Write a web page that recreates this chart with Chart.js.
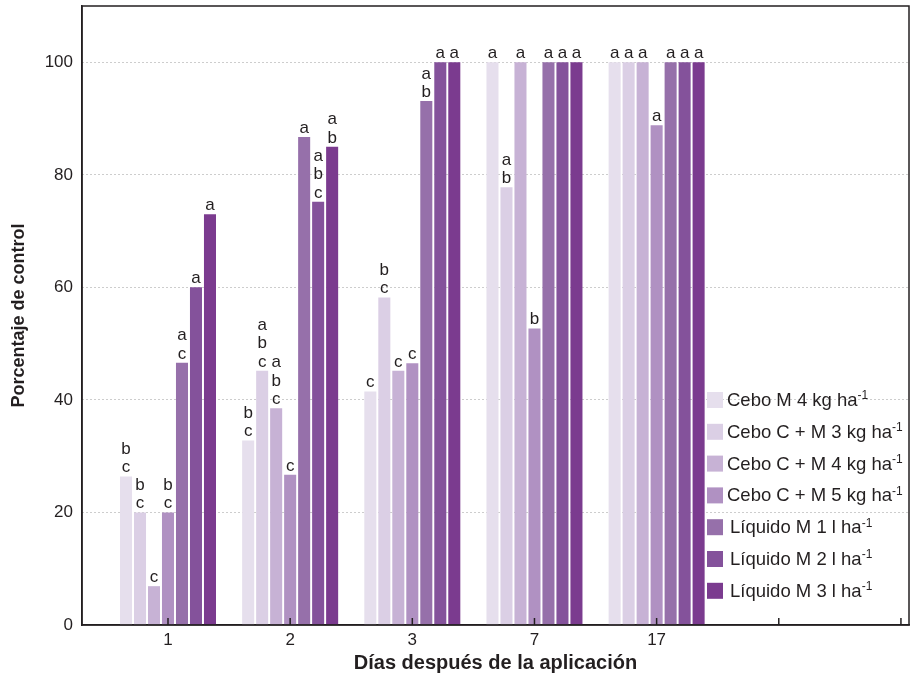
<!DOCTYPE html>
<html>
<head>
<meta charset="utf-8">
<script src="https://cdn.jsdelivr.net/npm/chart.js@4.4.0/dist/chart.umd.min.js"></script>
<style>
html, body { margin: 0; padding: 0; background: #fff; }
#wrap { width: 911px; height: 678px; }
</style>
</head>
<body>
<div id="wrap"><canvas id="myChart" width="911" height="678"></canvas></div>
<script>
// dias despues de la aplicacion (posiciones 1..5 del eje, 6 y 7 quedan vacias)
var dias = ['1', '2', '3', '7', '17', '', ''];
var y_ticks = [0, 20, 40, 60, 80, 100];

var tratamientos = [
    'Cebo M 4 kg ha⁻¹',
    'Cebo C + M 3 kg ha⁻¹',
    'Cebo C + M 4 kg ha⁻¹',
    'Cebo C + M 5 kg ha⁻¹',
    'Líquido M 1 l ha⁻¹',
    'Líquido M 2 l ha⁻¹',
    'Líquido M 3 l ha⁻¹'
];
var colores = ['#e6dfed', '#dbcfe5', '#c7b2d5', '#b091c2', '#9670aa', '#84529b', '#7b3b8f'];

var cebo_m4 = [26.4, 32.8, 41.5, 100, 100];
var cebo_cm3 = [20.0, 45.2, 58.2, 77.8, 100];
var cebo_cm4 = [6.9, 38.5, 45.2, 100, 100];
var cebo_cm5 = [20.0, 26.7, 46.5, 52.7, 88.8];
var liquido_m1 = [46.6, 86.7, 93.1, 100, 100];
var liquido_m2 = [60.0, 75.2, 100, 100, 100];
var liquido_m3 = [73.0, 85.0, 100, 100, 100];

// letras de significancia, una lista por tratamiento
var letras_m4 = ['b c', 'b c', 'c', 'a', 'a'];
var letras_cm3 = ['b c', 'a b c', 'b c', 'a b', 'a'];
var letras_cm4 = ['c', 'a b c', 'c', 'a', 'a'];
var letras_cm5 = ['b c', 'c', 'c', 'b', 'a'];
var letras_l1 = ['a c', 'a', 'a b', 'a', 'a'];
var letras_l2 = ['a', 'a b c', 'a', 'a', 'a'];
var letras_l3 = ['a', 'a b', 'a', 'a', 'a'];

var series = [cebo_m4, cebo_cm3, cebo_cm4, cebo_cm5, liquido_m1, liquido_m2, liquido_m3];
var letras = [letras_m4, letras_cm3, letras_cm4, letras_cm5, letras_l1, letras_l2, letras_l3];

var txt = '#231f20';
var fuente = '"Liberation Sans", Arial, sans-serif';

var datasets = series.map(function(vals, i) {
    return {
        label: tratamientos[i],
        backgroundColor: colores[i],
        data: vals.map(function(v, j) { return {x: j + 1, y: v}; }),
        letras: letras[i],
        categoryPercentage: 0.802,
        barPercentage: 0.86
    };
});

// marco, marcas internas del eje x, letras y leyenda
var extras = {
    id: 'extras',
    afterDatasetsDraw: function(chart) {
        var ctx = chart.ctx;
        var a = chart.chartArea;
        var xs = chart.scales.x;
        ctx.save();

        ctx.strokeStyle = txt;
        ctx.lineWidth = 1.5;
        xs.ticks.forEach(function(t) {
            var px = xs.getPixelForValue(t.value);
            ctx.beginPath();
            ctx.moveTo(px, a.bottom);
            ctx.lineTo(px, a.bottom - 7);
            ctx.stroke();
        });
        ctx.strokeRect(a.left, a.top, a.right - a.left, a.bottom - a.top);

        ctx.fillStyle = txt;
        ctx.font = '17px ' + fuente;
        ctx.textAlign = 'center';
        ctx.textBaseline = 'alphabetic';
        chart.data.datasets.forEach(function(ds, i) {
            var meta = chart.getDatasetMeta(i);
            meta.data.forEach(function(bar, j) {
                var lines = ds.letras[j].split(' ');
                for (var k = 0; k < lines.length; k++) {
                    var yy = bar.y - 4 - (lines.length - 1 - k) * 18.5;
                    ctx.fillText(lines[k], bar.x, yy);
                }
            });
        });

        // leyenda
        var lx = 707, ly = 400;
        ctx.textAlign = 'left';
        ctx.textBaseline = 'middle';
        chart.data.datasets.forEach(function(ds, i) {
            var y = ly + i * 31.8;
            ctx.fillStyle = ds.backgroundColor;
            ctx.fillRect(lx, y - 8, 16, 16);
            ctx.fillStyle = txt;
            var partes = ds.label.split('⁻¹');
            var tx = lx + 20 + (i >= 4 ? 3 : 0);
            ctx.font = '18.5px ' + fuente;
            ctx.fillText(partes[0], tx, y + 1);
            var w = ctx.measureText(partes[0]).width;
            ctx.font = '12px ' + fuente;
            ctx.fillText('-1', tx + w, y - 4);
        });
        ctx.restore();
    }
};

var chart = new Chart(document.getElementById('myChart').getContext('2d'), {
    type: 'bar',
    data: { datasets: datasets },
    options: {
        responsive: false,
        animation: false,
        layout: { padding: { top: 6, right: 2, left: 0, bottom: 0 } },
        plugins: {
            legend: { display: false },
            tooltip: { enabled: false }
        },
        scales: {
            x: {
                type: 'linear',
                offset: false,
                min: 0.296,
                max: 7.066,
                grid: { display: false, offset: false, drawTicks: false },
                border: { display: true, color: txt, width: 1.5 },
                ticks: {
                    stepSize: 1,
                    includeBounds: false,
                    padding: 5,
                    color: txt,
                    font: { family: fuente, size: 17 },
                    callback: function(v) { return dias[v - 1]; }
                },
                title: {
                    display: true,
                    text: 'Días después de la aplicación',
                    color: txt,
                    font: { family: fuente, size: 20, weight: 'bold' },
                    padding: { top: 0, bottom: 3 }
                },
                afterFit: function(s) {
                    s.height = 53;
                    s.paddingLeft = 0;
                    s.paddingRight = 0;
                }
            },
            y: {
                min: 0,
                max: 110,
                grid: {
                    drawTicks: false,
                    color: function(c) { return c.tick.value === 0 ? 'rgba(0,0,0,0)' : '#9a9a9a'; },
                    lineWidth: 1
                },
                border: { display: true, color: txt, width: 1.5, dash: [1, 3] },
                ticks: {
                    stepSize: 20,
                    includeBounds: false,
                    padding: 9,
                    color: txt,
                    font: { family: fuente, size: 17 },
                    callback: function(v) { return y_ticks.indexOf(v) >= 0 ? v : ''; }
                },
                title: {
                    display: true,
                    text: 'Porcentaje de control',
                    color: txt,
                    font: { family: fuente, size: 18, weight: 'bold' },
                    padding: { top: 8, bottom: 0 }
                },
                afterFit: function(s) {
                    s.width = 82;
                    s.paddingTop = 0;
                    s.paddingBottom = 0;
                }
            }
        }
    },
    plugins: [extras]
});
</script>
</body>
</html>
